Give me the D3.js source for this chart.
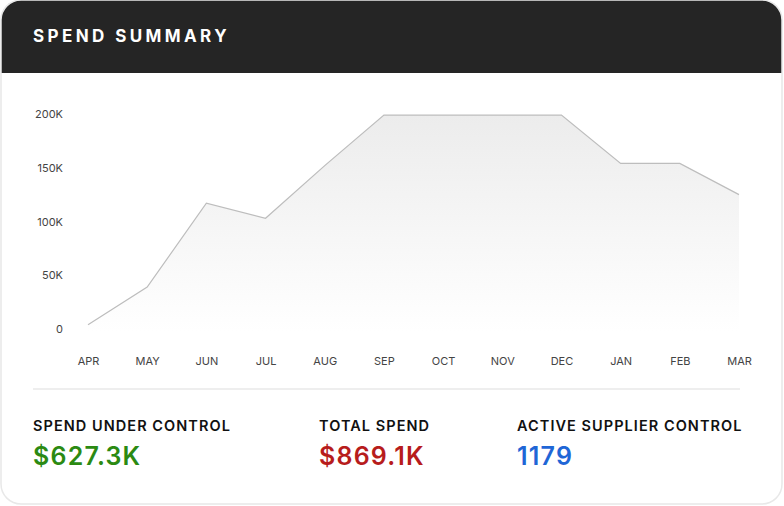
<!DOCTYPE html>
<html>
<head>
<meta charset="utf-8">
<script src="https://cdn.jsdelivr.net/npm/d3@7"></script>
<style>
  html, body { margin: 0; padding: 0; background: #fff; }
  svg { display: block; font-family: Inter, "Noto Sans", sans-serif; }
</style>
</head>
<body>
<div id="chart"></div>
<script>
// data
var months = ['APR', 'MAY', 'JUN', 'JUL', 'AUG', 'SEP', 'OCT', 'NOV', 'DEC', 'JAN', 'FEB', 'MAR']
var spend = [4000, 39000, 117000, 103000, 152000, 199000, 199000, 199000, 199000, 154000, 154000, 125000]
var yTicks = [0, 50000, 100000, 150000, 200000]
var statLabels = ['SPEND UNDER CONTROL', 'TOTAL SPEND', 'ACTIVE SUPPLIER CONTROL']
var statValues = ['$627.3K', '$869.1K', '1179']
var statColors = ['#2b8a12', '#b71c1c', '#1f66d6']

var w = 784,
    h = 506

var svg = d3.select('#chart')
    .append('svg')
    .attr('width', w)
    .attr('height', h)

var defs = svg.append('defs')
defs.append('clipPath')
    .attr('id', 'card')
    .append('rect')
    .attr('x', 1).attr('y', 0)
    .attr('width', w - 3).attr('height', h - 2)
    .attr('rx', 20)

var grad = defs.append('linearGradient')
    .attr('id', 'fade')
    .attr('x1', 0).attr('y1', 0).attr('x2', 0).attr('y2', 1)
grad.append('stop').attr('offset', '0%').attr('stop-color', '#ececec')
grad.append('stop').attr('offset', '100%').attr('stop-color', '#ffffff')

// card
var card = svg.append('g').attr('clip-path', 'url(#card)')
card.append('rect')
    .attr('x', 1).attr('y', 0)
    .attr('width', w - 3).attr('height', h - 2)
    .attr('fill', '#fff')
card.append('rect')
    .attr('x', 0).attr('y', 0)
    .attr('width', w).attr('height', 73)
    .attr('fill', '#252525')

svg.append('rect')
    .attr('x', 1).attr('y', 0)
    .attr('width', w - 3).attr('height', h - 2)
    .attr('rx', 20)
    .attr('fill', 'none')
    .attr('stroke', '#e8e8e8')
    .attr('stroke-width', 1.5)

svg.append('text')
    .text('SPEND SUMMARY')
    .attr('x', 33)
    .attr('y', 42)
    .attr('fill', '#fff')
    .attr('font-size', 17)
    .attr('font-weight', 700)
    .attr('letter-spacing', 3.4)

// scales
var xscale = d3.scalePoint()
    .domain(months)
    .range([88, 739])

var yscale = d3.scaleLinear()
    .domain([0, 200000])
    .range([329, 114])

// axis
var yaxis = d3.axisLeft(yscale)
    .tickValues(yTicks)
    .tickFormat(d => d === 0 ? '0' : d / 1000 + 'K')
    .tickSize(0)
    .tickPadding(0)

var xaxis = d3.axisBottom(xscale)
    .tickSize(0)
    .tickPadding(0)

var gy = svg.append('g')
    .attr('transform', 'translate(63,0)')
    .call(yaxis)
gy.select('.domain').remove()
gy.selectAll('text')
    .attr('fill', '#444')
    .attr('font-size', 11)
    .attr('font-family', 'Inter, sans-serif')

var gx = svg.append('g')
    .attr('transform', 'translate(0,357)')
    .call(xaxis)
gx.select('.domain').remove()
gx.selectAll('text')
    .attr('fill', '#444')
    .attr('font-size', 11)
    .attr('font-family', 'Inter, sans-serif')

// area + line
var area = d3.area()
    .x((d, i) => xscale(months[i]))
    .y0(yscale(0) + 2)
    .y1(d => yscale(d))

var line = d3.line()
    .x((d, i) => xscale(months[i]))
    .y(d => yscale(d))

svg.append('path')
    .datum(spend)
    .attr('d', area)
    .attr('fill', 'url(#fade)')

svg.append('path')
    .datum(spend)
    .attr('d', line)
    .attr('fill', 'none')
    .attr('stroke', '#bdbdbd')
    .attr('stroke-width', 1.2)

// separator
svg.append('line')
    .attr('x1', 33).attr('x2', 740)
    .attr('y1', 389).attr('y2', 389)
    .attr('stroke', '#eeeeee')
    .attr('stroke-width', 2)

// stats
var statX = [33, 319, 517]
var stats = svg.selectAll('.stat')
    .data(statLabels)
    .enter()
    .append('g')
    .attr('class', 'stat')
    .attr('transform', (d, i) => `translate(${statX[i]},0)`)

stats.append('text')
    .text(d => d)
    .attr('y', 431)
    .attr('fill', '#111')
    .attr('font-size', 14.5)
    .attr('font-weight', 600)
    .attr('letter-spacing', 1.05)

stats.append('text')
    .text((d, i) => statValues[i])
    .attr('y', 465)
    .attr('fill', (d, i) => statColors[i])
    .attr('font-size', 25)
    .attr('font-weight', 600)
    .attr('letter-spacing', 1.2)
</script>
</body>
</html>
